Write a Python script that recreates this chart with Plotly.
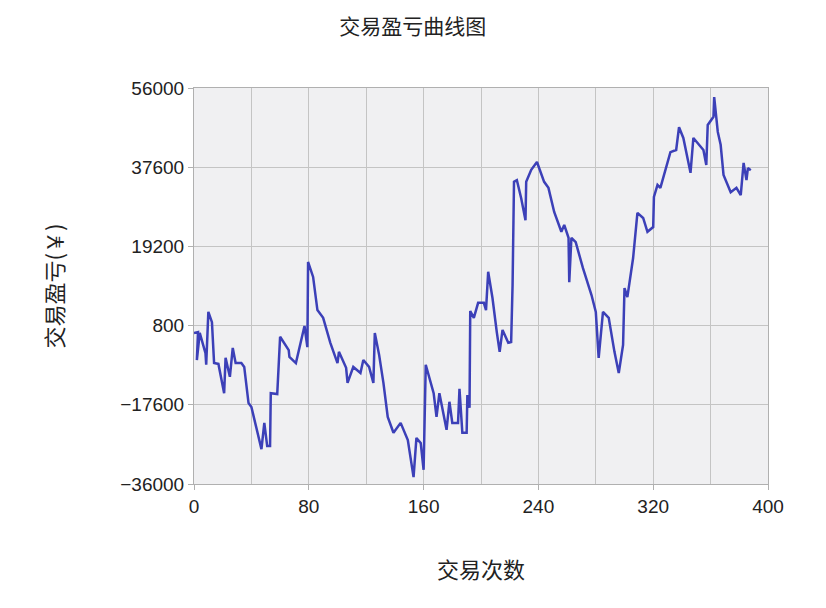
import plotly.graph_objects as go

trade_no = [0, 2.8, 2, 4, 8, 8.5, 10, 12.5, 14, 17, 21, 22, 25, 27, 29, 33, 35, 38, 40, 47,
            49, 51, 53, 53.5, 58, 60, 66, 66.5, 71, 75, 77, 79, 79.5, 83, 86, 90, 95, 100, 101, 106,
            107, 111, 116, 118, 122, 125, 126, 129, 132, 135, 139, 144, 149, 153, 155, 158, 160, 161.5, 167, 169,
            171, 176, 178, 180, 184, 185, 187, 190, 190.5, 192, 192.5, 195, 198, 202, 203.5, 205, 208, 211, 213, 215,
            219, 221, 222, 223, 225, 228, 231, 231.5, 235, 239, 244, 247, 251, 256, 258, 261, 261.5, 263, 266, 271,
            277, 280, 282, 285, 289, 293, 296, 299, 300, 302, 306, 309, 313, 316, 320, 320.5, 323, 325, 332, 336,
            338, 341, 346, 348, 351, 355, 357, 358, 362, 362.5, 365, 367, 369, 372, 374, 378, 381, 383, 385, 386, 388]
pnl = [-900, -700, -7200, -900, -5600, -8300, 4000, 1600, -7900, -8100, -14900, -6700, -11100, -4400, -7900, -7900, -8800, -17200, -18100, -27900,
       -21800, -27200, -27200, -14900, -15100, -1800, -4900, -6500, -7900, -2500, 700, -4200, 15600, 12100, 4400, 2600, -3200, -7900, -5300, -9000,
       -12500, -8800, -10200, -7200, -8800, -12500, -900, -6000, -12500, -20400, -24100, -21800, -25800, -34400, -25300, -26500, -32700, -8300, -14900, -20400,
       -14900, -23400, -16900, -21800, -21800, -13900, -24100, -24100, -15300, -18300, 4200, 2600, 6100, 6100, 4400, 13300, 7200, -700, -5300, -200,
       -3200, -3000, 10200, 34200, 34600, 30400, 25300, 34200, 37000, 38800, 34200, 32800, 27200, 22600, 24200, 21200, 10900, 21200, 20200, 14200,
       7900, 4000, -6700, 4000, 2600, -5300, -10200, -3700, 9500, 7400, 16500, 27000, 25800, 22600, 23700, 30700, 33500, 32800, 41100, 41600,
       46900, 44400, 36300, 44400, 43200, 41600, 38100, 47400, 49300, 53900, 45800, 42800, 35800, 33500, 31800, 32800, 31100, 38600, 34600, 37400, 36900]

fig = go.Figure(go.Scatter(x=trade_no, y=pnl, mode='lines',
                           line=dict(color='#3c40b8', width=2.5)))

font = "Noto Sans CJK SC"
fig.update_layout(
    width=826, height=608,
    margin=dict(l=186, r=66, t=80, b=132),
    paper_bgcolor='white',
    plot_bgcolor='#f0f0f2',
    showlegend=False,
    font=dict(family=font, size=18, color='#222222'),
    title=dict(text='交易盈亏曲线图', x=0.49, xanchor='center', y=0.97, yanchor='middle',
               font=dict(size=21, color='#222222')),
)
fig.update_xaxes(range=[0, 400], dtick=80, tick0=0, showgrid=True, gridcolor='#c4c4c4',
                 minor=dict(dtick=40, showgrid=True, gridcolor='#c4c4c4'),
                 showline=True, linecolor='#b0b0b0', mirror=True, zeroline=False,
                 ticks='outside', tickcolor='#b0b0b0', ticklen=5,
                 tickfont=dict(family='Liberation Sans', size=19),
                 title=dict(text='交易次数', standoff=46, font=dict(size=22)))
fig.update_yaxes(range=[-36000, 56000], dtick=18400, tick0=-36000, showgrid=True, gridcolor='#c4c4c4',
                 showline=True, linecolor='#b0b0b0', mirror=True, zeroline=False,
                 ticks='outside', tickcolor='#b0b0b0', ticklen=5, tickformat='d',
                 tickfont=dict(family='Liberation Sans', size=19),
                 title=dict(text='交易盈亏(￥)', standoff=50, font=dict(size=22)))

fig.write_html("out.html")
